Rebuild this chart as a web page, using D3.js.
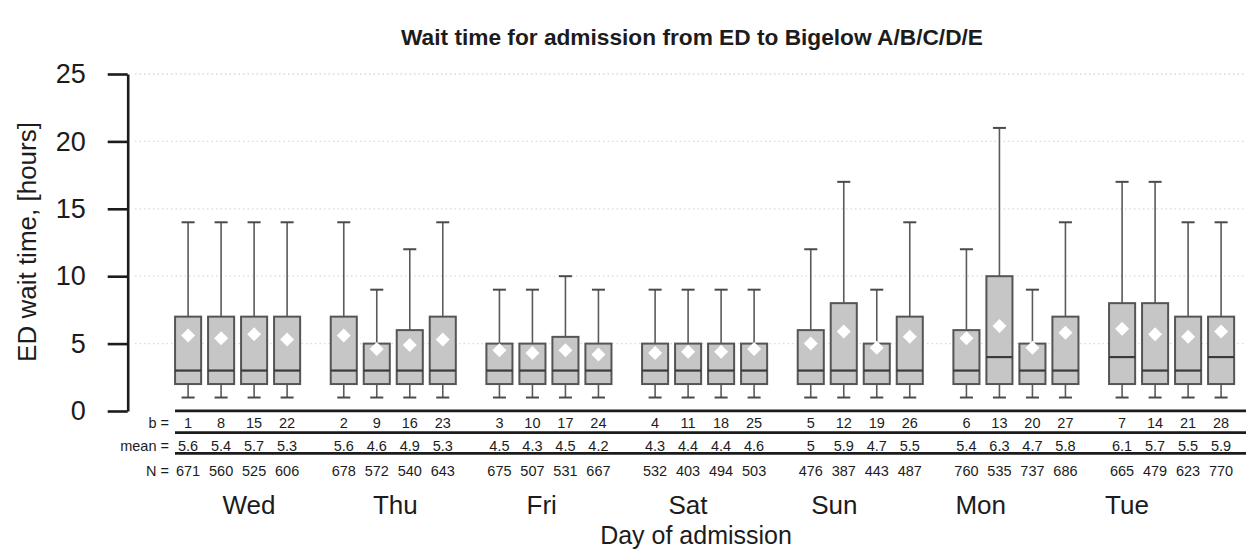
<!DOCTYPE html>
<html>
<head>
<meta charset="utf-8">
<script src="https://cdn.jsdelivr.net/npm/d3@7"></script>
<style>
  html, body { margin: 0; padding: 0; background: #fff; }
  svg { display: block; font-family: "Liberation Sans", Arial, Helvetica, sans-serif; }
</style>
</head>
<body>
<svg id="chart" width="1246" height="552"></svg>
<script>
// Days of admission, in the order they are plotted
const days = ["Wed", "Thu", "Fri", "Sat", "Sun", "Mon", "Tue"];

// Block number (b) of each box, four per day
const blocks = [1, 8, 15, 22, 2, 9, 16, 23, 3, 10, 17, 24, 4, 11, 18, 25,
                5, 12, 19, 26, 6, 13, 20, 27, 7, 14, 21, 28];

// Box statistics, hours
const whiskerLow  = [1, 1, 1, 1, 1, 1, 1, 1, 1, 1, 1, 1, 1, 1, 1, 1,
                     1, 1, 1, 1, 1, 1, 1, 1, 1, 1, 1, 1];
const quartile1   = [2, 2, 2, 2, 2, 2, 2, 2, 2, 2, 2, 2, 2, 2, 2, 2,
                     2, 2, 2, 2, 2, 2, 2, 2, 2, 2, 2, 2];
const medians     = [3, 3, 3, 3, 3, 3, 3, 3, 3, 3, 3, 3, 3, 3, 3, 3,
                     3, 3, 3, 3, 3, 4, 3, 3, 4, 3, 3, 4];
const quartile3   = [7, 7, 7, 7, 7, 5, 6, 7, 5, 5, 5.5, 5, 5, 5, 5, 5,
                     6, 8, 5, 7, 6, 10, 5, 7, 8, 8, 7, 7];
const whiskerHigh = [14, 14, 14, 14, 14, 9, 12, 14, 9, 9, 10, 9, 9, 9, 9, 9,
                     12, 17, 9, 14, 12, 21, 9, 14, 17, 17, 14, 14];
const means       = [5.6, 5.4, 5.7, 5.3, 5.6, 4.6, 4.9, 5.3, 4.5, 4.3, 4.5, 4.2,
                     4.3, 4.4, 4.4, 4.6, 5, 5.9, 4.7, 5.5, 5.4, 6.3, 4.7, 5.8,
                     6.1, 5.7, 5.5, 5.9];
const counts      = [671, 560, 525, 606, 678, 572, 540, 643, 675, 507, 531, 667,
                     532, 403, 494, 503, 476, 387, 443, 487, 760, 535, 737, 686,
                     665, 479, 623, 770];

// Y axis ticks
const yTicks = [0, 5, 10, 15, 20, 25];

const svg = d3.select("#chart");
const W = 1246;
const ink = "#1c1c1c";

// Scales
const y = d3.scaleLinear().domain([0, 25]).range([411, 74]);
const xDay = d3.scaleBand().domain(days).range([171.6, 1237.6])
  .paddingInner(0.152).paddingOuter(0);
const xSub = d3.scaleBand().domain(d3.range(4)).range([0, xDay.bandwidth()])
  .paddingInner(0.21).paddingOuter(0.105);
// Day names are spread evenly along the bottom margin
const xLabel = d3.scalePoint().domain(days).range([249, 1127]);

const boxes = days.flatMap((day, g) => d3.range(4).map(k => {
  const i = g * 4 + k;
  return {
    day, k,
    lo: whiskerLow[i], q1: quartile1[i], med: medians[i], q3: quartile3[i],
    hi: whiskerHigh[i], mean: means[i], n: counts[i], b: blocks[i],
    cx: xDay(day) + xSub(k) + xSub.bandwidth() / 2
  };
}));

// Title
svg.append("text")
  .attr("x", 692).attr("y", 45)
  .attr("text-anchor", "middle")
  .attr("font-size", 22.7).attr("font-weight", "bold").attr("fill", ink)
  .text("Wait time for admission from ED to Bigelow A/B/C/D/E");

// Faint dotted reference lines
svg.append("g").selectAll("line")
  .data(yTicks.filter(t => t > 0))
  .join("line")
  .attr("x1", 135).attr("x2", W)
  .attr("y1", d => y(d)).attr("y2", d => y(d))
  .attr("stroke", "#d9d9d9").attr("stroke-width", 1.3)
  .attr("stroke-dasharray", "1.5,3");

// Y axis
const yAxis = svg.append("g")
  .attr("transform", "translate(127.7,0)")
  .call(d3.axisLeft(y).tickValues(yTicks).tickSize(20).tickSizeOuter(0).tickPadding(22));
yAxis.select(".domain").attr("stroke", ink).attr("stroke-width", 2.6);
yAxis.selectAll(".tick line").attr("stroke", ink).attr("stroke-width", 2.6);
yAxis.selectAll(".tick text")
  .attr("font-size", 27).attr("fill", ink)
  .attr("font-family", "'Liberation Sans', Arial, Helvetica, sans-serif");

svg.append("text")
  .attr("transform", "translate(36,242) rotate(-90)")
  .attr("text-anchor", "middle")
  .attr("font-size", 26).attr("fill", ink)
  .text("ED wait time, [hours]");

// Box plots
const bw = xSub.bandwidth();
const capW = bw * 0.5;
const gBox = svg.append("g");
const box = gBox.selectAll("g.box").data(boxes).join("g").attr("class", "box");

box.append("line")
  .attr("x1", d => d.cx).attr("x2", d => d.cx)
  .attr("y1", d => y(d.q3)).attr("y2", d => y(d.hi))
  .attr("stroke", "#5a5a5a").attr("stroke-width", 1.6);
box.append("line")
  .attr("x1", d => d.cx).attr("x2", d => d.cx)
  .attr("y1", d => y(d.q1)).attr("y2", d => y(d.lo))
  .attr("stroke", "#5a5a5a").attr("stroke-width", 1.6);
box.append("line")
  .attr("x1", d => d.cx - capW / 2).attr("x2", d => d.cx + capW / 2)
  .attr("y1", d => y(d.hi)).attr("y2", d => y(d.hi))
  .attr("stroke", "#4a4a4a").attr("stroke-width", 2);
box.append("line")
  .attr("x1", d => d.cx - capW / 2).attr("x2", d => d.cx + capW / 2)
  .attr("y1", d => y(d.lo)).attr("y2", d => y(d.lo))
  .attr("stroke", "#4a4a4a").attr("stroke-width", 2);
box.append("rect")
  .attr("x", d => d.cx - bw / 2).attr("width", bw)
  .attr("y", d => y(d.q3)).attr("height", d => y(d.q1) - y(d.q3))
  .attr("fill", "#c6c6c6").attr("stroke", "#555").attr("stroke-width", 2);
box.append("line")
  .attr("x1", d => d.cx - bw / 2).attr("x2", d => d.cx + bw / 2)
  .attr("y1", d => y(d.med)).attr("y2", d => y(d.med))
  .attr("stroke", "#3a3a3a").attr("stroke-width", 2.2);

// Mean markers: white diamonds
const dia = 7;
box.append("path")
  .attr("d", d => {
    const cy = y(d.mean);
    return `M${d.cx},${cy - dia}L${d.cx + dia},${cy}L${d.cx},${cy + dia}L${d.cx - dia},${cy}Z`;
  })
  .attr("fill", "#fff");

// Summary table under the plot
const tableLines = [410.8, 432.6, 453.3];
svg.append("g").selectAll("line").data(tableLines).join("line")
  .attr("x1", 175).attr("x2", W)
  .attr("y1", d => d).attr("y2", d => d)
  .attr("stroke", ink).attr("stroke-width", 2.8);

const rows = [
  { label: "b =", baseline: 428.3, value: d => String(d.b) },
  { label: "mean =", baseline: 450.7, value: d => String(d.mean) },
  { label: "N =", baseline: 475.7, value: d => String(d.n) }
];
rows.forEach(row => {
  svg.append("text")
    .attr("x", 169).attr("y", row.baseline)
    .attr("text-anchor", "end").attr("font-size", 14.5).attr("fill", ink)
    .text(row.label);
  svg.append("g").selectAll("text").data(boxes).join("text")
    .attr("x", d => d.cx).attr("y", row.baseline)
    .attr("text-anchor", "middle").attr("font-size", 14.5).attr("fill", ink)
    .text(row.value);
});

// Day labels and x axis title
svg.append("g").selectAll("text").data(days).join("text")
  .attr("x", d => xLabel(d)).attr("y", 514)
  .attr("text-anchor", "middle").attr("font-size", 26).attr("fill", ink)
  .text(d => d);

svg.append("text")
  .attr("x", 696).attr("y", 544)
  .attr("text-anchor", "middle").attr("font-size", 25).attr("fill", ink)
  .text("Day of admission");
</script>
</body>
</html>
